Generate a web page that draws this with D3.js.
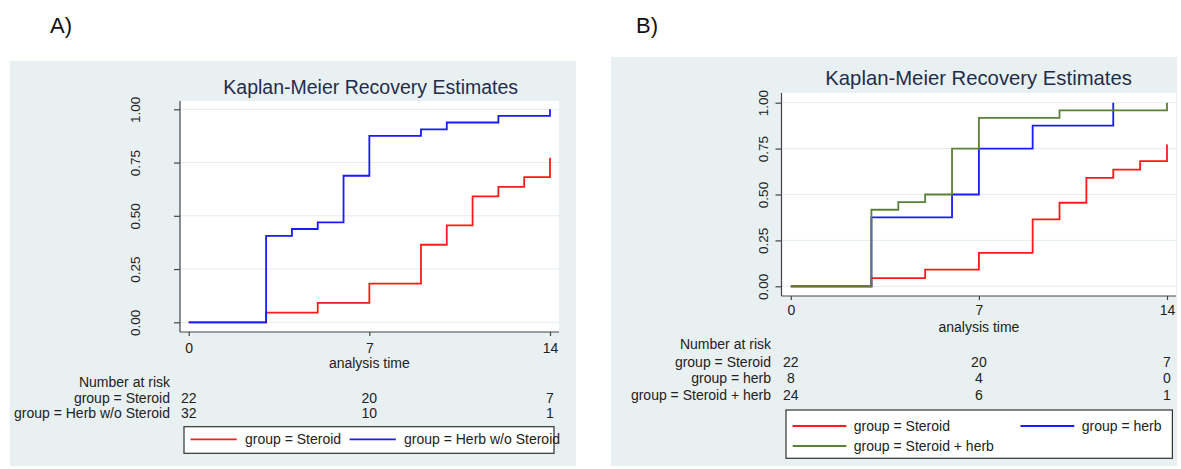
<!DOCTYPE html>
<meta charset="utf-8">
<style>
    body { margin: 0; background: #fff; }
    svg { font-family: "Liberation Sans", Arial, sans-serif; }
    .bg { fill: #e9f0f2; }
    .plotarea { fill: #fff; }
    .grid line { stroke: #e4edf0; stroke-width: 1px; }
    .axisline { stroke: #444; stroke-width: 1.2px; }
    .tick line { stroke: #444; stroke-width: 1.2px; }
    .km { fill: none; stroke-width: 1.8px; }
    .title { fill: #1f2d4c; }
    .lbl { fill: #222; font-size: 14px; }
</style>
<svg width="1181" height="469"></svg>
<script src="https://d3js.org/d3.v7.min.js"></script>
<script>

    // ---- data ----
    var xTicks = [0, 7, 14],
        yTicks = [0, 0.25, 0.5, 0.75, 1];

    var steroidTimes = [0, 3, 5, 7, 9, 10, 11, 12, 13, 14],
        steroidRecovered = [0, 0.045, 0.091, 0.182, 0.364, 0.455, 0.591, 0.636, 0.682, 0.773];

    var herbNoSteroidTimes = [0, 3, 4, 5, 6, 7, 9, 10, 12, 14],
        herbNoSteroidRecovered = [0, 0.406, 0.438, 0.469, 0.688, 0.875, 0.906, 0.938, 0.969, 1.0];

    var herbTimes = [0, 3, 6, 7, 9, 12],
        herbRecovered = [0, 0.375, 0.5, 0.75, 0.875, 1.0];

    var comboTimes = [0, 3, 4, 5, 6, 7, 10, 14],
        comboRecovered = [0, 0.417, 0.458, 0.5, 0.75, 0.917, 0.958, 1.0];

    var groupsA = ["group = Steroid", "group = Herb w/o Steroid"],
        atRiskA = [[22, 20, 7], [32, 10, 1]];

    var groupsB = ["group = Steroid", "group = herb", "group = Steroid + herb"],
        atRiskB = [[22, 20, 7], [8, 4, 0], [24, 6, 1]];

    var red = "#ff1a1a", blue = "#1a1aff", green = "#5b8038";

    var svg = d3.select("svg");

    function zip(ts, vs) { return ts.map(function (t, i) { return [t, vs[i]]; }); }

    var panels = [
        {
            label: "A)", labelX: 50, labelY: 33,
            bg: [10, 61, 566, 405],
            plot: { left: 180, top: 101, right: 559, bottom: 332 },
            xRange: [188.7, 550], yRange: [322.3, 109.3],
            titleX: 370.7, titleY: 94, titleSize: 19.5,
            yLabelX: 135, xLabelY: 353, axisTitleY: 367.5,
            riskRight: 170, riskTitleY: 386.7, riskRowY: [402.7, 418.3],
            groups: groupsA, atRisk: atRiskA,
            series: [
                { pts: zip(steroidTimes, steroidRecovered), color: red },
                { pts: zip(herbNoSteroidTimes, herbNoSteroidRecovered), color: blue }
            ],
            legend: { box: [184, 426.7, 370, 26.6],
                items: [
                    { x1: 190.5, x2: 236.8, tx: 245, y: 439.3, color: red, text: groupsA[0] },
                    { x1: 349.6, x2: 395.8, tx: 404, y: 439.3, color: blue, text: groupsA[1] }
                ] }
        },
        {
            label: "B)", labelX: 636, labelY: 33,
            bg: [611, 57, 566, 409],
            plot: { left: 781.5, top: 93, right: 1176, bottom: 296 },
            xRange: [790.8, 1167], yRange: [286.3, 102.7],
            titleX: 978.6, titleY: 85, titleSize: 20.3,
            yLabelX: 763, xLabelY: 315, axisTitleY: 331.7,
            riskRight: 771, riskTitleY: 349, riskRowY: [366.7, 383.3, 400],
            groups: groupsB, atRisk: atRiskB,
            series: [
                { pts: zip(steroidTimes, steroidRecovered), color: red },
                { pts: zip(herbTimes, herbRecovered), color: blue },
                { pts: zip(comboTimes, comboRecovered), color: green }
            ],
            legend: { box: [786, 410, 386.4, 48.3],
                items: [
                    { x1: 792.7, x2: 846.4, tx: 853.8, y: 426, color: red, text: groupsB[0] },
                    { x1: 1020.5, x2: 1074.3, tx: 1081.7, y: 426, color: blue, text: groupsB[1] },
                    { x1: 792.7, x2: 846.4, tx: 853.8, y: 446, color: green, text: groupsB[2] }
                ] }
        }
    ];

    panels.forEach(drawPanel);

    function drawPanel(p) {
        var g = svg.append("g");
        var x = d3.scaleLinear().domain([0, 14]).range(p.xRange),
            y = d3.scaleLinear().domain([0, 1]).range(p.yRange);

        g.append("text").attr("x", p.labelX).attr("y", p.labelY)
            .attr("font-size", 22).attr("fill", "#111").text(p.label);

        g.append("rect").attr("class", "bg")
            .attr("x", p.bg[0]).attr("y", p.bg[1]).attr("width", p.bg[2]).attr("height", p.bg[3]);

        g.append("rect").attr("class", "plotarea")
            .attr("x", p.plot.left).attr("y", p.plot.top)
            .attr("width", p.plot.right - p.plot.left).attr("height", p.plot.bottom - p.plot.top);

        // gridlines
        g.append("g").attr("class", "grid").selectAll("line").data(yTicks).enter().append("line")
            .attr("x1", p.plot.left).attr("x2", p.plot.right)
            .attr("y1", function (d) { return y(d); }).attr("y2", function (d) { return y(d); });

        // axis lines
        g.append("line").attr("class", "axisline")
            .attr("x1", p.plot.left).attr("x2", p.plot.left).attr("y1", p.plot.top).attr("y2", p.plot.bottom);
        g.append("line").attr("class", "axisline")
            .attr("x1", p.plot.left).attr("x2", p.plot.right).attr("y1", p.plot.bottom).attr("y2", p.plot.bottom);

        // y axis ticks + rotated labels
        var ya = g.append("g").attr("transform", "translate(" + p.plot.left + ",0)")
            .call(d3.axisLeft(y).tickValues(yTicks).tickSize(6).tickSizeOuter(0).tickFormat(d3.format(".2f")));
        ya.select(".domain").remove();
        ya.selectAll("text")
            .attr("x", null).attr("dy", null)
            .attr("transform", function () { return "translate(" + (p.yLabelX - p.plot.left) + ",0) rotate(-90)"; })
            .attr("text-anchor", "middle").attr("dominant-baseline", "central")
            .attr("font-size", 13.5).attr("font-family", null).attr("fill", "#222");

        // x axis
        var xa = g.append("g").attr("transform", "translate(0," + p.plot.bottom + ")")
            .call(d3.axisBottom(x).tickValues(xTicks).tickSize(4).tickSizeOuter(0));
        xa.select(".domain").remove();
        xa.selectAll("text").attr("y", p.xLabelY - p.plot.bottom).attr("dy", null)
            .attr("font-size", 14).attr("font-family", null).attr("fill", "#222");

        g.append("text").attr("class", "lbl").attr("x", x(7)).attr("y", p.axisTitleY)
            .attr("text-anchor", "middle").text("analysis time");

        g.append("text").attr("class", "title").attr("x", p.titleX).attr("y", p.titleY)
            .attr("text-anchor", "middle").attr("font-size", p.titleSize)
            .text("Kaplan-Meier Recovery Estimates");

        // KM step curves
        var line = d3.line().curve(d3.curveStepAfter)
            .x(function (d) { return x(d[0]); }).y(function (d) { return y(d[1]); });
        g.selectAll(".km").data(p.series).enter().append("path").attr("class", "km")
            .attr("stroke", function (d) { return d.color; })
            .attr("d", function (d) { return line(d.pts); });

        // number at risk table
        g.append("text").attr("class", "lbl").attr("x", p.riskRight).attr("y", p.riskTitleY)
            .attr("text-anchor", "end").text("Number at risk");
        p.groups.forEach(function (name, i) {
            g.append("text").attr("class", "lbl").attr("x", p.riskRight).attr("y", p.riskRowY[i])
                .attr("text-anchor", "end").text(name);
            g.selectAll(null).data(p.atRisk[i]).enter().append("text").attr("class", "lbl")
                .attr("x", function (d, j) { return x(xTicks[j]); }).attr("y", p.riskRowY[i])
                .attr("text-anchor", "middle").text(function (d) { return d; });
        });

        // legend
        var lb = p.legend.box;
        g.append("rect").attr("x", lb[0]).attr("y", lb[1]).attr("width", lb[2]).attr("height", lb[3])
            .attr("fill", "#fff").attr("stroke", "#333").attr("stroke-width", 1.2);
        p.legend.items.forEach(function (it) {
            g.append("line").attr("x1", it.x1).attr("x2", it.x2).attr("y1", it.y).attr("y2", it.y)
                .attr("stroke", it.color).attr("stroke-width", 1.8);
            g.append("text").attr("class", "lbl").attr("x", it.tx).attr("y", it.y)
                .attr("dominant-baseline", "central").text(it.text);
        });
    }

</script>
